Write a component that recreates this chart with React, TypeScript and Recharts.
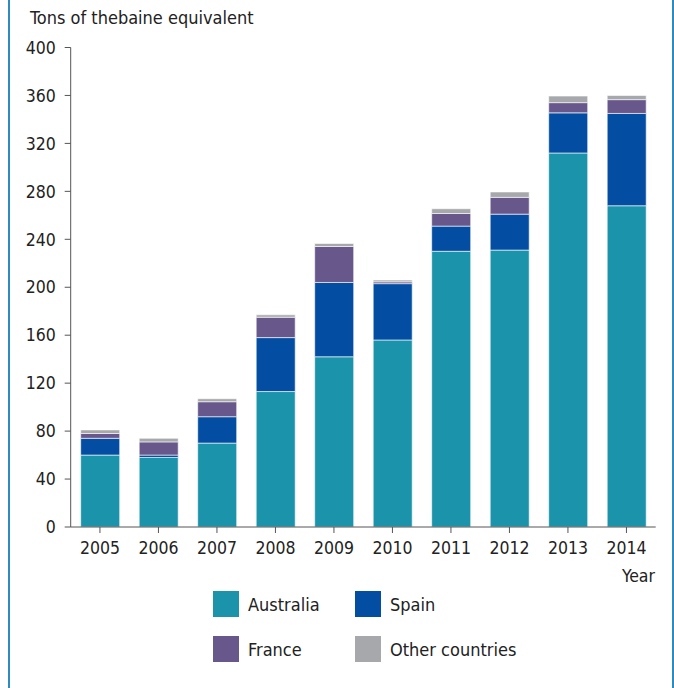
import React from "react";
import { BarChart, Bar, XAxis, YAxis } from "recharts";

const years = ["2005", "2006", "2007", "2008", "2009", "2010", "2011", "2012", "2013", "2014"];
const australia = [60, 58, 70, 113, 142, 156, 230, 231, 312, 268];
const spain = [14, 2, 22, 45, 62, 47, 21, 30, 33.5, 77];
const france = [4, 11, 12.5, 17, 30, 1.5, 10.5, 14, 8.5, 11.5];
const other = [3, 3, 2.5, 2, 2.5, 1.5, 4, 4.5, 5.5, 3.5];
const yTicks = [0, 40, 80, 120, 160, 200, 240, 280, 320, 360, 400];

const data = years.map((year, i) => ({
  year,
  australia: australia[i],
  spain: spain[i],
  france: france[i],
  other: other[i],
}));

const FONT = '"Liberation Sans Narrow", "DejaVu Sans Condensed", "Roboto Condensed", Roboto, sans-serif';

const series = [
  { key: "australia", name: "Australia", color: "#1b93aa" },
  { key: "spain", name: "Spain", color: "#034ea2" },
  { key: "france", name: "France", color: "#67578a" },
  { key: "other", name: "Other countries", color: "#a7a8ab" },
];

function LegendItem({ name, color, x, y }: { name: string; color: string; x: number; y: number }) {
  return (
    <div style={{ position: "absolute", left: x, top: y, display: "flex", alignItems: "center" }}>
      <div style={{ width: 26, height: 26, background: color }} />
      <span style={{ marginLeft: 9, fontSize: 18, color: "#222", fontFamily: FONT }}>{name}</span>
    </div>
  );
}

export default function App() {
  const tick = { fontSize: 17.5, fill: "#222", fontFamily: FONT };
  return (
    <div style={{ position: "absolute", left: 0, top: 0, width: 674, height: 688, background: "#fff", overflow: "hidden" }}>
      <div style={{ position: "absolute", left: 8, top: 0, width: 1.5, height: 688, background: "#2e8bc0" }} />
      <div style={{ position: "absolute", left: 672, top: 0, width: 1.5, height: 688, background: "#2e8bc0" }} />
      <div style={{ position: "absolute", left: 30, top: 7, fontSize: 18, color: "#222", fontFamily: FONT }}>
        Tons of thebaine equivalent
      </div>
      <div style={{ position: "absolute", left: 0, top: 0 }}>
        <BarChart
          width={674}
          height={560}
          data={data}
          margin={{ top: 47.5, right: 18.3, bottom: 3, left: 0 }}
          barSize={39}
        >
          <XAxis
            dataKey="year"
            tick={tick}
            tickSize={6}
            tickMargin={9}
            height={30}
            stroke="#555"
            interval={0}
          />
          <YAxis
            domain={[0, 400]}
            ticks={yTicks}
            tick={tick}
            tickSize={6}
            tickMargin={9}
            width={70.7}
            stroke="#555"
            interval={0}
          />
          {series.map((s) => (
            <Bar
              key={s.key}
              dataKey={s.key}
              name={s.name}
              stackId="a"
              fill={s.color}
              stroke="#ffffff"
              strokeWidth={0.6}
              isAnimationActive={false}
            />
          ))}
        </BarChart>
      </div>
      <div style={{ position: "absolute", right: 674 - 655, top: 566, fontSize: 17.5, color: "#222", fontFamily: FONT }}>
        Year
      </div>
      <LegendItem name={series[0].name} color={series[0].color} x={213} y={591} />
      <LegendItem name={series[1].name} color={series[1].color} x={355} y={591} />
      <LegendItem name={series[2].name} color={series[2].color} x={213} y={636} />
      <LegendItem name={series[3].name} color={series[3].color} x={355} y={636} />
    </div>
  );
}
